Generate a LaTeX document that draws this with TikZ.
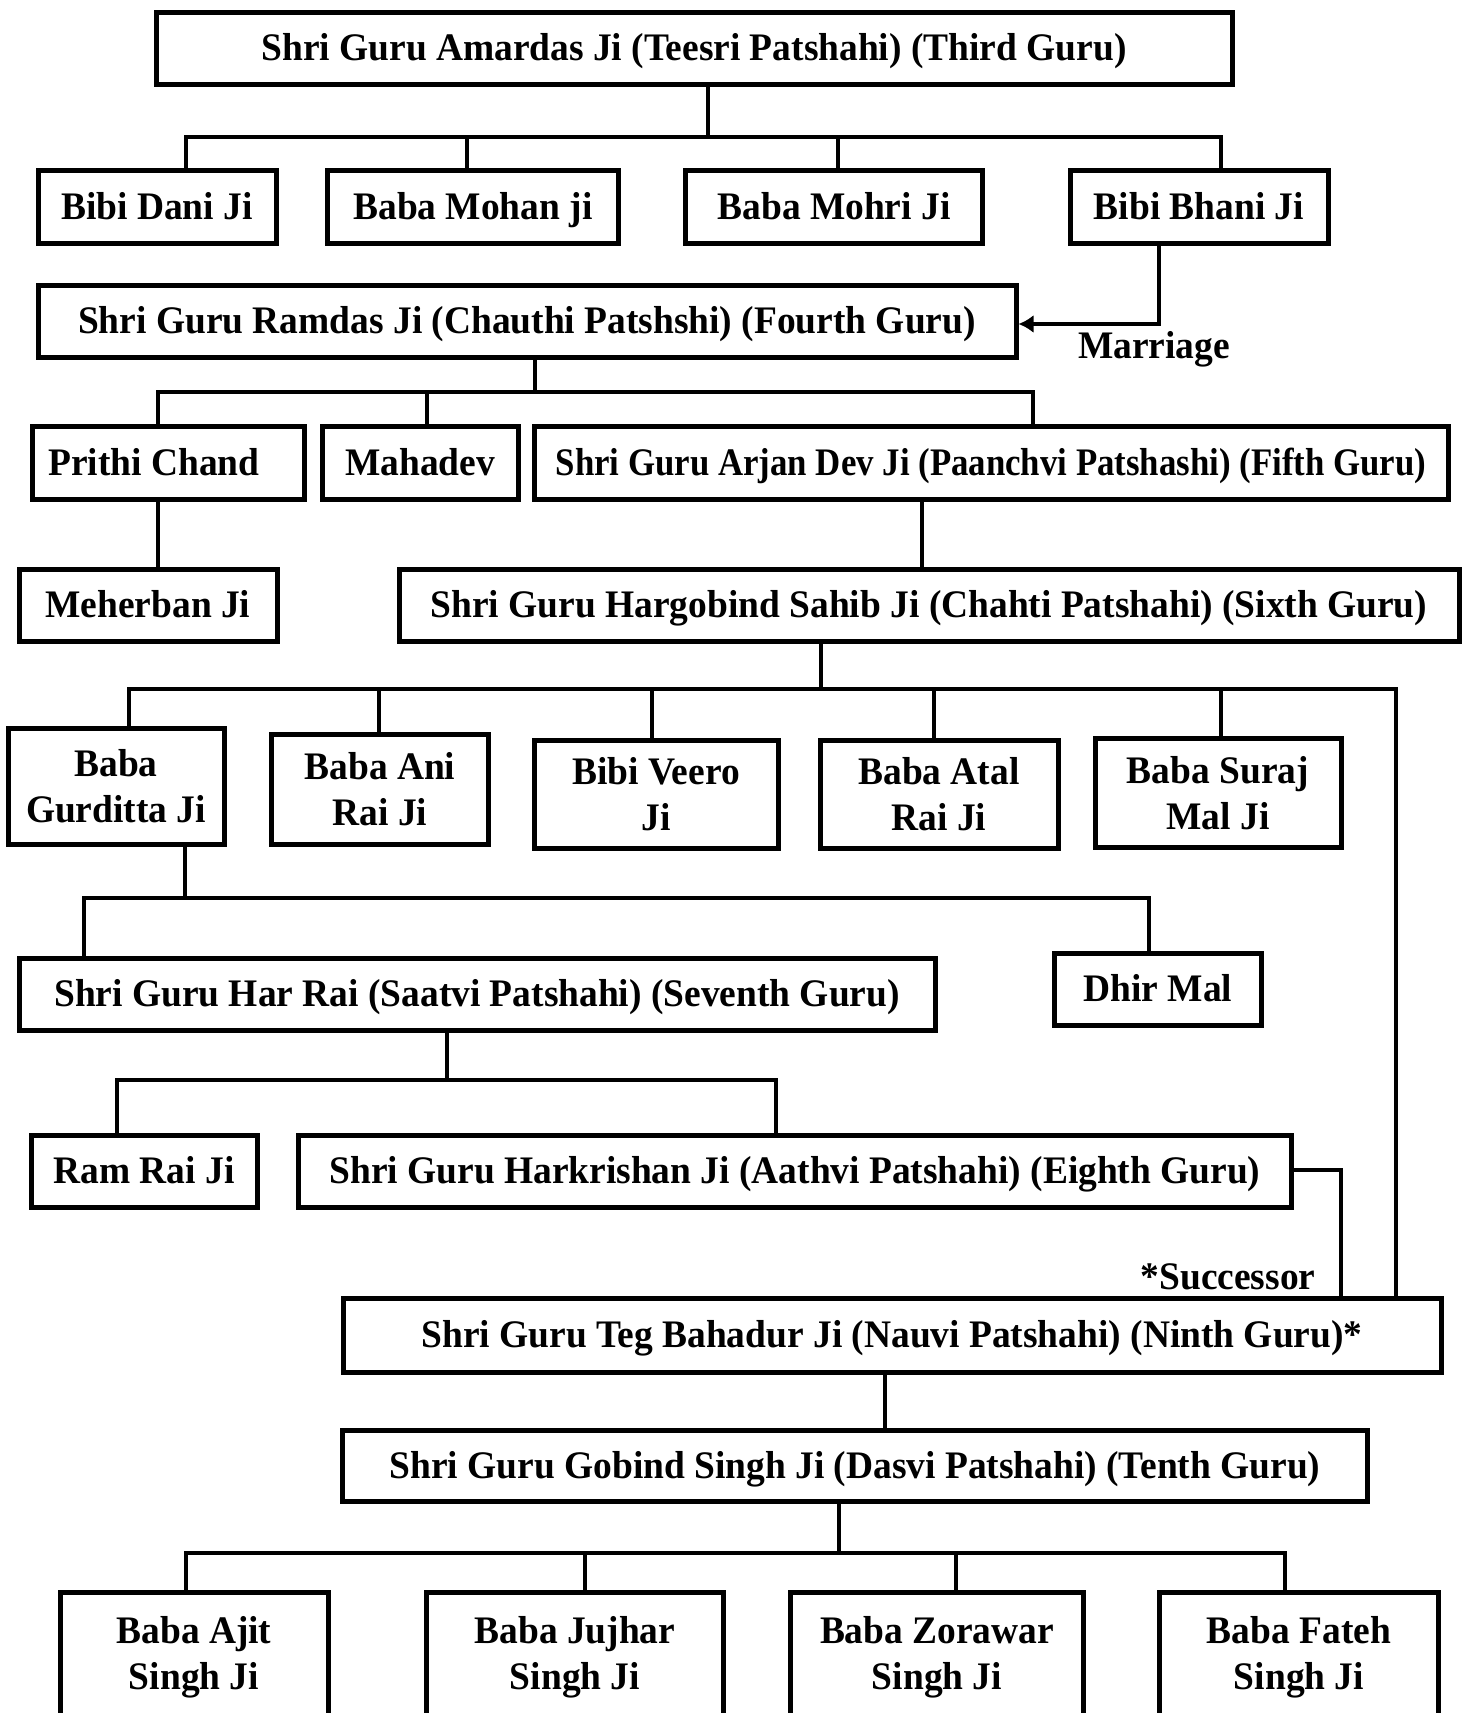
\documentclass[tikz,border=0pt]{standalone}
\usepackage{fontspec}
\setmainfont[FakeStretch=0.96]{Liberation Serif}
\usepackage{tikz}
\usetikzlibrary{arrows.meta}

\tikzset{
  member/.style={draw, line width=5pt, inner sep=0pt, align=center,
    font=\fontsize{39}{46}\selectfont\bfseries},
  oneline/.style={member, text height=30pt, text depth=6pt},
  link/.style={line width=4pt},
  tag/.style={inner sep=0pt, font=\fontsize{39}{46}\selectfont\bfseries}
}

\begin{document}
\begin{tikzpicture}[x=1pt, y=-1pt]

    \clip (0,0) rectangle (1470,1713);
    \fill[white] (0,0) rectangle (1470,1713);

    % Third Guru and his children
    \node[oneline, minimum width=1076pt, minimum height=72pt] (amar) at (694,48) {Shri Guru Amardas Ji (Teesri Patshahi) (Third Guru)};
    \node[oneline, minimum width=238pt, minimum height=73pt] (dani) at (157,207) {Bibi Dani Ji};
    \node[oneline, minimum width=291pt, minimum height=73pt] (mohan) at (473,207) {Baba Mohan ji};
    \node[oneline, minimum width=297pt, minimum height=73pt] (mohri) at (834,207) {Baba Mohri Ji};
    \node[oneline, minimum width=258pt, minimum height=73pt] (bhani) at (1199,207) {Bibi Bhani Ji};

    % Fourth and fifth Guru
    \node[oneline, minimum width=978pt, minimum height=72pt] (ramdas) at (527,321) {Shri Guru Ramdas Ji (Chauthi Patshshi) (Fourth Guru)};
    \node[tag] (marriage) at (1154,349) {Marriage};
    \node[oneline, minimum width=272pt, minimum height=73pt] (prithi) at (168,463) {Prithi Chand\hspace*{28pt}};
    \node[oneline, minimum width=196pt, minimum height=73pt] (mahadev) at (420,463) {Mahadev};
    \node[oneline, minimum width=914pt, minimum height=73pt] (arjan) at (991,463) {\scalebox{0.93}[1]{Shri Guru Arjan Dev Ji (Paanchvi Patshashi) (Fifth Guru)}};
    \node[oneline, minimum width=258pt, minimum height=72pt] (meherban) at (148,605) {Meherban Ji};

    % Sixth Guru and his children
    \node[oneline, minimum width=1060pt, minimum height=72pt] (hargobind) at (929,605) {Shri Guru Hargobind Sahib Ji (Chahti Patshahi) (Sixth Guru)};
    \node[member, minimum width=216pt, minimum height=116pt] (gurditta) at (116,786) {Baba\\Gurditta Ji};
    \node[member, minimum width=217pt, minimum height=110pt] (ani) at (380,789) {Baba Ani\\Rai Ji};
    \node[member, minimum width=244pt, minimum height=108pt] (veero) at (656,794) {Bibi Veero\\Ji};
    \node[member, minimum width=238pt, minimum height=108pt] (atal) at (939,794) {Baba Atal\\Rai Ji};
    \node[member, minimum width=246pt, minimum height=109pt] (suraj) at (1218,793) {Baba Suraj\\Mal Ji};

    % Seventh and eighth Guru
    \node[oneline, minimum width=916pt, minimum height=72pt] (harrai) at (477,994) {Shri Guru Har Rai (Saatvi Patshahi) (Seventh Guru)};
    \node[oneline, minimum width=207pt, minimum height=72pt] (dhir) at (1158,989) {Dhir Mal};
    \node[oneline, minimum width=226pt, minimum height=72pt] (ramrai) at (144,1171) {Ram Rai Ji};
    \node[oneline, minimum width=993pt, minimum height=72pt] (harkrishan) at (795,1171) {Shri Guru Harkrishan Ji (Aathvi Patshahi) (Eighth Guru)};

    % Ninth and tenth Guru
    \node[tag] (successor) at (1228,1277) {*Successor};
    \node[oneline, minimum width=1098pt, minimum height=74pt] (teg) at (892,1335) {Shri Guru Teg Bahadur Ji (Nauvi Patshahi) (Ninth Guru)*};
    \node[oneline, minimum width=1025pt, minimum height=71pt] (gobind) at (855,1466) {Shri Guru Gobind Singh Ji (Dasvi Patshahi) (Tenth Guru)};
    \node[member, minimum width=268pt, minimum height=130pt] (ajit) at (194,1657) {Baba Ajit\\Singh Ji};
    \node[member, minimum width=297pt, minimum height=130pt] (jujhar) at (575,1657) {Baba Jujhar\\Singh Ji};
    \node[member, minimum width=293pt, minimum height=130pt] (zorawar) at (937,1657) {Baba Zorawar\\Singh Ji};
    \node[member, minimum width=279pt, minimum height=130pt] (fateh) at (1299,1657) {Baba Fateh\\Singh Ji};

    % Junction points
    \coordinate (jAmar) at (708,137);
    \coordinate (jDani) at (186,137);
    \coordinate (jMohan) at (467,137);
    \coordinate (jMohri) at (838,137);
    \coordinate (jBhani) at (1221,137);
    \coordinate (jWed) at (1159,324);
    \coordinate (jRamdas) at (535,392);
    \coordinate (jPrithi) at (158,392);
    \coordinate (jMahadev) at (427,392);
    \coordinate (jArjan) at (1033,392);
    \coordinate (jSixth) at (922,530);
    \coordinate (jHargobind) at (821,689);
    \coordinate (jGurditta) at (129,689);
    \coordinate (jAni) at (379,689);
    \coordinate (jVeero) at (652,689);
    \coordinate (jAtal) at (934,689);
    \coordinate (jSuraj) at (1221,689);
    \coordinate (jLine) at (1396,689);
    \coordinate (jSeventh) at (185,898);
    \coordinate (jHarrai) at (84,898);
    \coordinate (jDhir) at (1149,898);
    \coordinate (jEighth) at (447,1080);
    \coordinate (jRamrai) at (117,1080);
    \coordinate (jHarkrishan) at (776,1080);
    \coordinate (jSucc) at (1341,1170);
    \coordinate (jTenth) at (885,1400);
    \coordinate (jGobind) at (839,1553);
    \coordinate (jAjit) at (186,1553);
    \coordinate (jJujhar) at (585,1553);
    \coordinate (jZorawar) at (956,1553);
    \coordinate (jFateh) at (1285,1553);

    % Amardas to his children
    \draw[link] (amar.south -| jAmar) -- (jAmar);
    \draw[link] (dani.north -| jDani) -- (jDani) -- (jBhani) -- (bhani.north -| jBhani);
    \draw[link] (jMohan) -- (mohan.north -| jMohan);
    \draw[link] (jMohri) -- (mohri.north -| jMohri);

    % Marriage of Bibi Bhani
    \draw[link, -{Latex[length=15pt, width=18pt]}] (bhani.south -| jWed) -- (jWed) -- (ramdas.east |- jWed);

    % Ramdas to his children
    \draw[link] (ramdas.south -| jRamdas) -- (jRamdas);
    \draw[link] (prithi.north -| jPrithi) -- (jPrithi) -- (jArjan) -- (arjan.north -| jArjan);
    \draw[link] (jMahadev) -- (mahadev.north -| jMahadev);
    \draw[link] (prithi.south -| jPrithi) -- (meherban.north -| jPrithi);
    \draw[link] (arjan.south -| jSixth) -- (hargobind.north -| jSixth);

    % Hargobind to his children
    \draw[link] (hargobind.south -| jHargobind) -- (jHargobind);
    \draw[link] (gurditta.north -| jGurditta) -- (jGurditta) -- (jLine) -- (teg.north -| jLine);
    \draw[link] (jAni) -- (ani.north -| jAni);
    \draw[link] (jVeero) -- (veero.north -| jVeero);
    \draw[link] (jAtal) -- (atal.north -| jAtal);
    \draw[link] (jSuraj) -- (suraj.north -| jSuraj);

    % Gurditta to his children
    \draw[link] (gurditta.south -| jSeventh) -- (jSeventh);
    \draw[link] (harrai.north -| jHarrai) -- (jHarrai) -- (jDhir) -- (dhir.north -| jDhir);

    % Har Rai to his children
    \draw[link] (harrai.south -| jEighth) -- (jEighth);
    \draw[link] (ramrai.north -| jRamrai) -- (jRamrai) -- (jHarkrishan) -- (harkrishan.north -| jHarkrishan);

    % Harkrishan names the successor
    \draw[link] (harkrishan.east |- jSucc) -- (jSucc) -- (teg.north -| jSucc);

    % Teg Bahadur to Gobind Singh and his sons
    \draw[link] (teg.south -| jTenth) -- (gobind.north -| jTenth);
    \draw[link] (gobind.south -| jGobind) -- (jGobind);
    \draw[link] (ajit.north -| jAjit) -- (jAjit) -- (jFateh) -- (fateh.north -| jFateh);
    \draw[link] (jJujhar) -- (jujhar.north -| jJujhar);
    \draw[link] (jZorawar) -- (zorawar.north -| jZorawar);

\end{tikzpicture}
\end{document}
